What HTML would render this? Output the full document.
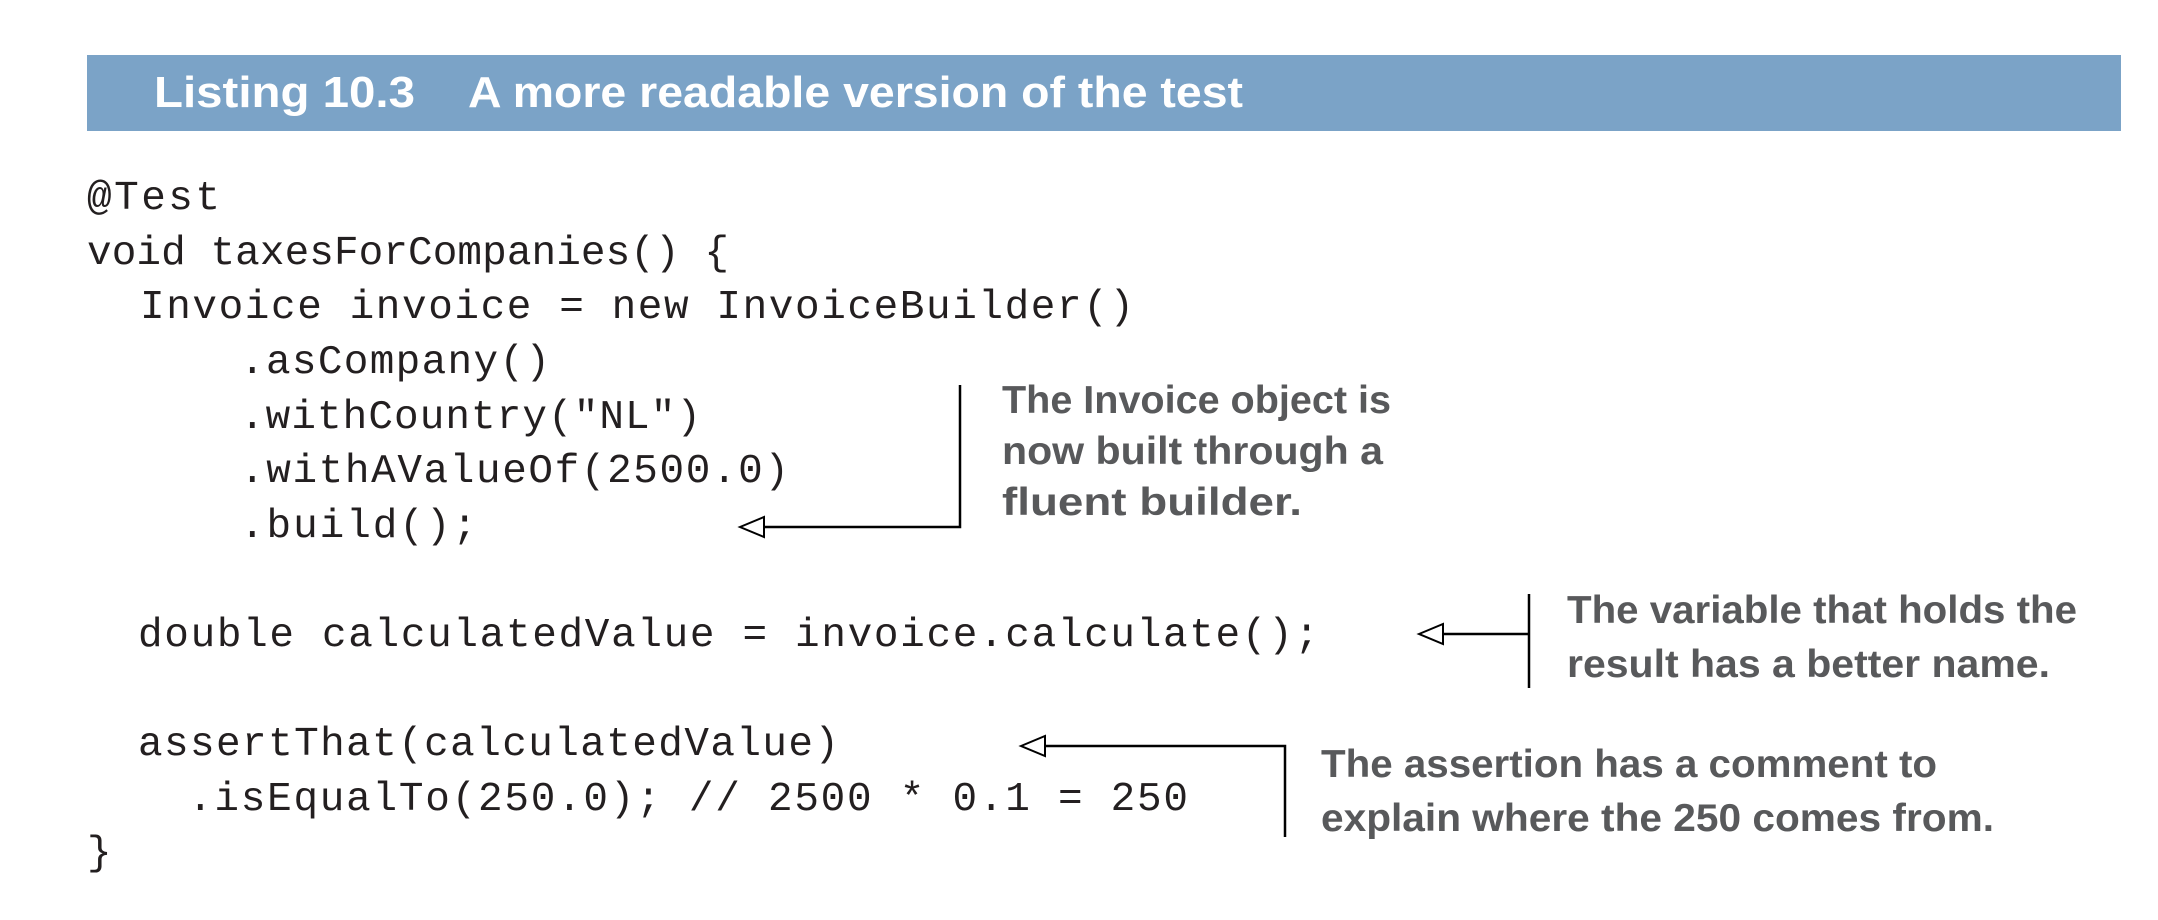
<!DOCTYPE html>
<html><head><meta charset="utf-8"><style>
html,body{margin:0;padding:0;background:#fff;width:2158px;height:920px;overflow:hidden}
svg{display:block}
.c{font-family:"Liberation Mono",monospace;font-size:41px;fill:#231f20}
.a{font-family:"Liberation Sans",sans-serif;font-weight:bold;font-size:39px;fill:#58595b}
.t{font-family:"Liberation Sans",sans-serif;font-weight:bold;font-size:44px;fill:#fff}
</style></head><body>
<svg width="2158" height="920" viewBox="0 0 2158 920" xmlns="http://www.w3.org/2000/svg">
<rect x="87" y="55" width="2034" height="76" fill="#7ba3c7"/>
<text class="t" x="154" y="107" textLength="261" lengthAdjust="spacingAndGlyphs">Listing 10.3</text>
<text class="t" x="468" y="107" textLength="775" lengthAdjust="spacingAndGlyphs">A more readable version of the test</text>
<g class="c">
<text x="87" y="209" textLength="133" lengthAdjust="spacing">@Test</text>
<text x="87" y="264" textLength="642" lengthAdjust="spacing">void taxesForCompanies() {</text>
<text x="140" y="318" textLength="994" lengthAdjust="spacing">Invoice invoice = new InvoiceBuilder()</text>
<text x="240" y="373" textLength="310" lengthAdjust="spacing">.asCompany()</text>
<text x="240" y="428" textLength="461" lengthAdjust="spacing">.withCountry("NL")</text>
<text x="240" y="482" textLength="549" lengthAdjust="spacing">.withAValueOf(2500.0)</text>
<text x="240" y="537" textLength="237" lengthAdjust="spacing">.build();</text>
<text x="138" y="646" textLength="1181" lengthAdjust="spacing">double calculatedValue = invoice.calculate();</text>
<text x="138" y="755" textLength="701" lengthAdjust="spacing">assertThat(calculatedValue)</text>
<text x="188" y="810" textLength="1000" lengthAdjust="spacing">.isEqualTo(250.0); // 2500 * 0.1 = 250</text>
<text x="87" y="864">}</text>
</g>
<g stroke="#000" stroke-width="2.5" fill="none">
<polyline points="960,385 960,527 762,527"/>
<polyline points="1529,594 1529,688"/>
<line x1="1529" y1="634" x2="1441" y2="634"/>
<polyline points="1285,837 1285,746 1043,746"/>
</g>
<g stroke="#000" stroke-width="2" fill="#fff">
<polygon points="740,527 764,517 764,537"/>
<polygon points="1419,634 1443,624 1443,644"/>
<polygon points="1021,746 1045,736 1045,756"/>
</g>
<g class="a">
<text x="1002" y="413" textLength="389" lengthAdjust="spacingAndGlyphs">The Invoice object is</text>
<text x="1002" y="464" textLength="381" lengthAdjust="spacingAndGlyphs">now built through a</text>
<text x="1002" y="515" textLength="300" lengthAdjust="spacingAndGlyphs">fluent builder.</text>
<text x="1567" y="623" textLength="510" lengthAdjust="spacingAndGlyphs">The variable that holds the</text>
<text x="1567" y="677" textLength="483" lengthAdjust="spacingAndGlyphs">result has a better name.</text>
<text x="1321" y="777" textLength="616" lengthAdjust="spacingAndGlyphs">The assertion has a comment to</text>
<text x="1321" y="831" textLength="673" lengthAdjust="spacingAndGlyphs">explain where the 250 comes from.</text>
</g>
</svg>
</body></html>
